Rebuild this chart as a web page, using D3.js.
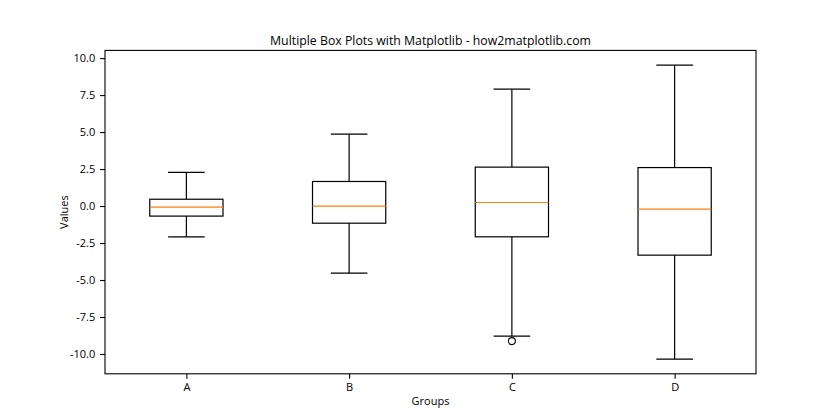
<!DOCTYPE html>
<html><head><meta charset="utf-8">
<script src="https://cdn.jsdelivr.net/npm/d3@7"></script>
<style>body{margin:0;background:#fff}svg{display:block}text{font-family:"Open Sans","Noto Sans",sans-serif;fill:#000}</style>
</head><body><svg id="c" width="840" height="420"></svg>
<script>
const groups = ["A","B","C","D"];
const whiskerLow = [-2.09, -4.54, -8.80, -10.35];
const q1 = [-0.68, -1.16, -2.08, -3.32];
const median = [-0.07, -0.01, 0.24, -0.21];
const q3 = [0.46, 1.66, 2.63, 2.60];
const whiskerHigh = [2.28, 4.86, 7.90, 9.53];
const outliers = [[], [], [-9.13], []];
const yTicks = [-10, -7.5, -5, -2.5, 0, 2.5, 5, 7.5, 10];

const m = {left:105, right:756, top:50.4, bottom:373.8};
const svg = d3.select("#c");

const x = d3.scaleLinear().domain([0.5, 4.5]).range([m.left, m.right]);
const y = d3.scaleLinear().domain([-11.34, 10.52]).range([m.bottom, m.top]);
const boxW = 0.45, capW = 0.225;

const lw = 1.2;
const g = svg.append("g");
groups.forEach((name, i) => {
  const p = i + 1;
  const gg = g.append("g").attr("fill","none").attr("stroke","#000").attr("stroke-width",lw);
  gg.append("line").attr("x1",x(p)).attr("x2",x(p)).attr("y1",y(q1[i])).attr("y2",y(whiskerLow[i]));
  gg.append("line").attr("x1",x(p)).attr("x2",x(p)).attr("y1",y(q3[i])).attr("y2",y(whiskerHigh[i]));
  gg.append("line").attr("x1",x(p-capW/2)).attr("x2",x(p+capW/2)).attr("y1",y(whiskerLow[i])).attr("y2",y(whiskerLow[i]));
  gg.append("line").attr("x1",x(p-capW/2)).attr("x2",x(p+capW/2)).attr("y1",y(whiskerHigh[i])).attr("y2",y(whiskerHigh[i]));
  gg.append("rect").attr("x",x(p-boxW/2)).attr("width",x(p+boxW/2)-x(p-boxW/2))
    .attr("y",y(q3[i])).attr("height",y(q1[i])-y(q3[i]));
  g.append("line").attr("x1",x(p-boxW/2)).attr("x2",x(p+boxW/2)).attr("y1",y(median[i])).attr("y2",y(median[i]))
    .attr("stroke","#ff7f0e").attr("stroke-width",lw);
  outliers[i].forEach(v => {
    g.append("circle").attr("cx",x(p)).attr("cy",y(v)).attr("r",3.5)
      .attr("fill","none").attr("stroke","#000").attr("stroke-width",1.1);
  });
});

const xAxis = d3.axisBottom(x).tickValues([1,2,3,4]).tickFormat((d,i)=>groups[i]).tickSize(4.9).tickPadding(4.9);
const yAxis = d3.axisLeft(y).tickValues(yTicks).tickFormat(d3.format(".1f")).tickSize(4.9).tickPadding(4.9);
const gx = svg.append("g").attr("transform",`translate(0,${m.bottom})`).call(xAxis);
const gy = svg.append("g").attr("transform",`translate(${m.left},0)`).call(yAxis);
[gx,gy].forEach(a=>{
  a.select(".domain").remove();
  a.selectAll(".tick line").attr("stroke","#000").attr("stroke-width",1.1);
  a.selectAll(".tick text").attr("font-size","11px").attr("font-family",'"Open Sans","Noto Sans",sans-serif').attr("fill","#000");
});
gy.selectAll(".tick text").text(d => d3.format(".1f")(d).replace("−","-"));
svg.append("rect").attr("x",m.left).attr("y",m.top).attr("width",m.right-m.left).attr("height",m.bottom-m.top)
  .attr("fill","none").attr("stroke","#000").attr("stroke-width",1.1);

svg.append("text").attr("x",(m.left+m.right)/2).attr("y",45).attr("text-anchor","middle")
  .attr("font-size","12.3px").text("Multiple Box Plots with Matplotlib - how2matplotlib.com");
svg.append("text").attr("x",(m.left+m.right)/2).attr("y",405).attr("text-anchor","middle")
  .attr("font-size","11px").text("Groups");
svg.append("text").attr("transform",`translate(68,${(m.top+m.bottom)/2}) rotate(-90)`).attr("text-anchor","middle")
  .attr("font-size","11px").text("Values");
</script></body></html>
